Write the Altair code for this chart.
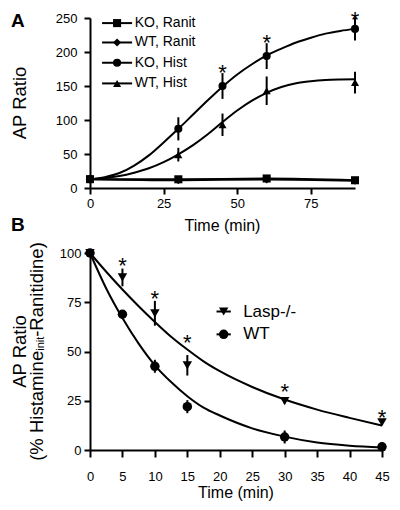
import altair as alt
import pandas as pd

FONT = "Liberation Sans"

# ---------------- Panel A values ----------------
a_series = ["KO, Ranit", "WT, Ranit", "KO, Hist", "WT, Hist"]
a_shapes = ["square", "diamond", "circle", "triangle-up"]

ranit_time = [0, 30, 60, 90]
ko_ranit = [13, 12.8, 14, 11.4]
wt_ranit = [13, 11.5, 12.5, 10.8]

hist_time = [0, 30, 45, 60, 90]
ko_hist = [13, 87, 150, 194, 234]
ko_hist_err = [0, 17, 19, 19, 17]
wt_hist = [13, 49, 93, 143, 155]
wt_hist_err = [0, 10, 16.5, 21, 16]

a_fit_time = [0, 5, 10, 15, 20, 25, 30, 35, 40, 45, 50, 55, 60, 65, 70, 75, 80, 85, 90]
ko_hist_fit = [13, 16, 22, 33, 48, 67, 87, 108, 129, 149, 167, 182, 195, 205, 214, 221, 227, 231, 234]
wt_hist_fit = [13, 14.5, 17.5, 22.5, 29, 38, 49.5, 63, 79, 97, 114, 128.5, 140, 148.5, 154, 157, 158.8, 159.6, 160]

a_star_time = [45, 60, 90]
a_star_val = [177, 220, 255]

a_x_ticks = [0, 25, 50, 75]
a_y_ticks = [0, 50, 100, 150, 200, 250]

# legend layout for panel A (in data units)
a_leg_y = [242.5, 214, 184.2, 153.8]

# ---------------- Panel B values ----------------
b_series = ["Lasp-/-", "WT"]
b_shapes = ["triangle-down", "circle"]

b_time = [0, 5, 10, 15, 30, 45]
lasp_val = [100, 87.6, 69.4, 43, 24.8, 14]
lasp_err = [0, 4.5, 6.3, 5.2, 1.2, 1.2]
wtb_val = [100, 68.9, 42.5, 22, 6.6, 1.6]
wtb_err = [0, 2, 3.3, 3.3, 3.3, 1]

b_fit_time = [0, 2.5, 5, 7.5, 10, 12.5, 15, 17.5, 20, 25, 30, 35, 40, 45]
lasp_fit = [100, 90.5, 81.5, 73, 65, 57.5, 51, 45, 40, 32, 25.6, 20.5, 16.3, 12.4]
wtb_fit = [100, 82, 67, 54, 43, 34.5, 27.3, 21.5, 17.5, 11, 6.8, 3.8, 2.2, 1.3]

b_star_time = [5, 10, 15, 30, 45]
b_star_val = [95.8, 79.3, 57, 32.2, 19]

b_x_ticks = [0, 5, 10, 15, 20, 25, 30, 35, 40, 45]
b_y_ticks = [0, 25, 50, 75, 100]

b_leg_y = [70.3, 58.7]

x_title = "Time (min)"
y_title = "AP Ratio"
b_y_title_parts = ["(% Histamine", "init", "-Ranitidine)"]
panel_labels = ["A", "B"]

# ---------------- layout ----------------
AW, AH = 265, 170
BW, BH = 292, 197

# ---------------- build tables ----------------
a_points = pd.concat([
    pd.DataFrame({"t": ranit_time, "v": ko_ranit, "s": a_series[0]}),
    pd.DataFrame({"t": ranit_time, "v": wt_ranit, "s": a_series[1]}),
    pd.DataFrame({"t": hist_time, "v": ko_hist, "e": ko_hist_err, "s": a_series[2]}),
    pd.DataFrame({"t": hist_time, "v": wt_hist, "e": wt_hist_err, "s": a_series[3]}),
], ignore_index=True)
a_err = a_points[a_points["e"].fillna(0) > 0].copy()
a_err["lo"] = a_err["v"] - a_err["e"]
a_err["hi"] = a_err["v"] + a_err["e"]

a_lines = pd.concat([
    pd.DataFrame({"t": ranit_time, "v": ko_ranit, "s": a_series[0]}),
    pd.DataFrame({"t": ranit_time, "v": wt_ranit, "s": a_series[1]}),
    pd.DataFrame({"t": a_fit_time, "v": ko_hist_fit, "s": a_series[2]}),
    pd.DataFrame({"t": a_fit_time, "v": wt_hist_fit, "s": a_series[3]}),
], ignore_index=True)

a_stars = pd.DataFrame({"t": a_star_time, "v": a_star_val, "txt": "*"})
a_leg = pd.DataFrame({"s": a_series, "y": a_leg_y, "x1": 4.1, "x2": 14.3, "xm": 9.2, "xt": 15.2})

b_points = pd.concat([
    pd.DataFrame({"t": b_time, "v": lasp_val, "e": lasp_err, "s": b_series[0]}),
    pd.DataFrame({"t": b_time, "v": wtb_val, "e": wtb_err, "s": b_series[1]}),
], ignore_index=True)
b_err = b_points[b_points["e"] > 0].copy()
b_err["lo"] = b_err["v"] - b_err["e"]
b_err["hi"] = b_err["v"] + b_err["e"]
b_lines = pd.concat([
    pd.DataFrame({"t": b_fit_time, "v": lasp_fit, "s": b_series[0]}),
    pd.DataFrame({"t": b_fit_time, "v": wtb_fit, "s": b_series[1]}),
], ignore_index=True)
b_stars = pd.DataFrame({"t": b_star_time, "v": b_star_val, "txt": "*"})
b_leg = pd.DataFrame({"s": b_series, "y": b_leg_y, "x1": 19.5, "x2": 21.7, "xm": 20.6, "xt": 23.6})


def ax(domain, ticks, tick, pad):
    return dict(scale=alt.Scale(domain=domain, nice=False, zero=False),
                axis=alt.Axis(values=ticks, title=None, tickSize=tick, labelPadding=pad,
                              labelFlush=False, labelOverlap=False))


def panel(points, err, lines, stars, leg, series, shapes, xdom, ydom, xt, yt, W, H,
          xtick, xpad, ytick, ypad, msize, legfont, extra):
    X = lambda f: alt.X(f, **ax(xdom, xt, xtick, xpad))
    Y = lambda f: alt.Y(f, **ax(ydom, yt, ytick, ypad))
    shp = alt.Shape("s:N", scale=alt.Scale(domain=series, range=shapes), legend=None)
    lyr = [
        alt.Chart(lines).mark_line(color="black", strokeWidth=2, interpolate="monotone")
        .encode(x=X("t:Q"), y=Y("v:Q"), detail="s:N"),
        alt.Chart(err).mark_rule(color="black", strokeWidth=2)
        .encode(x=X("t:Q"), y=Y("lo:Q"), y2="hi:Q"),
        alt.Chart(points).mark_point(filled=True, color="black", opacity=1, size=msize)
        .encode(x=X("t:Q"), y=Y("v:Q"), shape=shp),
        alt.Chart(stars).mark_text(font=FONT, fontSize=22, color="black", baseline="alphabetic", dy=12)
        .encode(x=X("t:Q"), y=Y("v:Q"), text="txt:N"),
        alt.Chart(leg).mark_rule(color="black", strokeWidth=2)
        .encode(x=X("x1:Q"), x2="x2:Q", y=Y("y:Q")),
        alt.Chart(leg).mark_point(filled=True, color="black", opacity=1, size=msize)
        .encode(x=X("xm:Q"), y=Y("y:Q"), shape=shp),
        alt.Chart(leg).mark_text(font=FONT, fontSize=legfont, color="black", align="left", baseline="middle")
        .encode(x=X("xt:Q"), y=Y("y:Q"), text="s:N"),
    ]
    return alt.layer(*lyr, *extra).properties(width=W, height=H)


def label(txt, x, y, size, bold=False, angle=0, align="center"):
    kw = dict(font=FONT, fontSize=size, color="black", baseline="middle", align=align)
    if bold:
        kw["fontWeight"] = "bold"
    if angle:
        kw["angle"] = angle
    return alt.Chart(pd.DataFrame({"txt": [txt]})).mark_text(**kw).encode(
        x=alt.value(x), y=alt.value(y), text="txt:N")


extra_a = [
    label(panel_labels[0], -79, 3, 19, bold=True, align="left"),
    label(panel_labels[1], -79, AH + 37, 19, bold=True, align="left"),
    label(y_title, -70, AH / 2, 18.5, angle=270),
    label(x_title, AW / 2, AH + 38, 16),
]

seg1 = 110.0
seg2 = 14.0
seg3 = 94.6
start = BH / 2 + (seg1 + seg2 + seg3) / 2
extra_b = [
    label(y_title, -70, BH / 2, 18.5, angle=270),
    label(b_y_title_parts[0], -53, start, 18.5, angle=270, align="left"),
    label(b_y_title_parts[1], -49, start - seg1, 11, angle=270, align="left"),
    label(b_y_title_parts[2], -53, start - seg1 - seg2, 18.5, angle=270, align="left"),
    label(x_title, BW / 2, BH + 43, 16),
]

chart_a = panel(a_points, a_err, a_lines, a_stars, a_leg, a_series, a_shapes,
                [0, 90], [0, 250], a_x_ticks, a_y_ticks, AW, AH,
                6, 3, 6, 7, 65, 14, extra_a)
chart_b = panel(b_points, b_err, b_lines, b_stars, b_leg, b_series, b_shapes,
                [0, 45], [0, 100], b_x_ticks, b_y_ticks, BW, BH,
                7, 13, 6, 3, 90, 17, extra_b)

chart = alt.vconcat(chart_a, chart_b, spacing=7).resolve_scale(
    shape="independent", x="independent", y="independent"
).properties(
    padding={"left": 3, "top": 0, "right": 0, "bottom": 0}
).configure_view(
    stroke=None
).configure_axis(
    domainColor="black", domainWidth=2, tickColor="black", tickWidth=2,
    labelColor="black", labelFont=FONT, labelFontSize=13, grid=False
)

chart.save("out.html", embed_options={"renderer": "svg", "actions": False})
